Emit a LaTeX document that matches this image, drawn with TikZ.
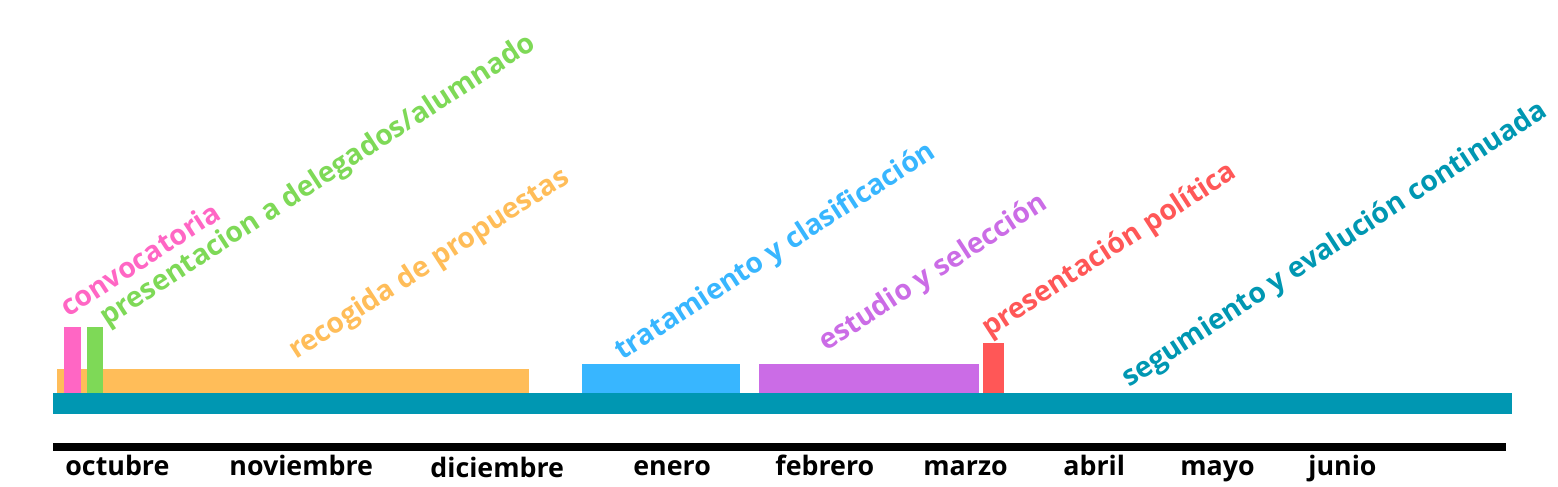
\documentclass[tikz,border=0pt]{standalone}
\usepackage{fontspec}
\setmainfont{Open Sans}
\definecolor{convpink}{HTML}{FF66C4}
\definecolor{presgreen}{HTML}{7ED957}
\definecolor{recorange}{HTML}{FFBD59}
\definecolor{tratblue}{HTML}{38B6FF}
\definecolor{estpurple}{HTML}{CB6CE6}
\definecolor{polred}{HTML}{FF5757}
\definecolor{segteal}{HTML}{0097B2}
\tikzstyle{month}=[anchor=base west, inner sep=0pt, font=\fontsize{13.4}{15}\selectfont\bfseries]
\tikzstyle{phase}=[anchor=base west, inner sep=0pt, rotate=33, font=\fontsize{14.1}{16}\selectfont\bfseries]
\newcommand{\drawmonths}[0]
{
  \fill[black] (53,443) rectangle (1506,451);
  \node[month] (oct) at (65,475) {octubre};
  \node[month] (nov) at (229,475) {noviembre};
  \node[month] (dic) at (430,477) {diciembre};
  \node[month] (ene) at (633,475) {enero};
  \node[month] (feb) at (775,475) {febrero};
  \node[month] (mar) at (923,475) {marzo};
  \node[month] (abr) at (1063,475) {abril};
  \node[month] (may) at (1180,475) {mayo};
  \node[month] (jun) at (1308,475) {junio};
}

\begin{document}
\begin{tikzpicture}[x=0.5pt, y=-0.5pt]
	\useasboundingbox (0,0) rectangle (1558,487);

	% phases
	\fill[recorange] (57,369) rectangle (529,393);
	\fill[convpink] (64,327) rectangle (81,393);
	\fill[presgreen] (87,327) rectangle (103,393);
	\fill[tratblue] (582,364) rectangle (740,393);
	\fill[estpurple] (759,364) rectangle (979,393);
	\fill[polred] (983,343) rectangle (1004,393);
	\fill[segteal] (53,393) rectangle (1512,414);

	\node[phase, text=convpink] (convocatoria) at (68,318) {convocatoria};
	\node[phase, text=presgreen] (presentacion) at (107,327) {presentacion a delegados/alumnado};
	\node[phase, text=recorange] (recogida) at (296,360) {recogida de propuestas};
	\node[phase, text=tratblue] (tratamiento) at (622,361) {tratamiento y clasificación};
	\node[phase, text=estpurple] (estudio) at (826,352) {estudio y selección};
	\node[phase, text=polred] (politica) at (989,338) {presentación política};
	\node[phase, text=segteal] (seguimiento) at (1129,388) {segumiento y evalución continuada};

	\drawmonths{}

\end{tikzpicture}
\end{document}
